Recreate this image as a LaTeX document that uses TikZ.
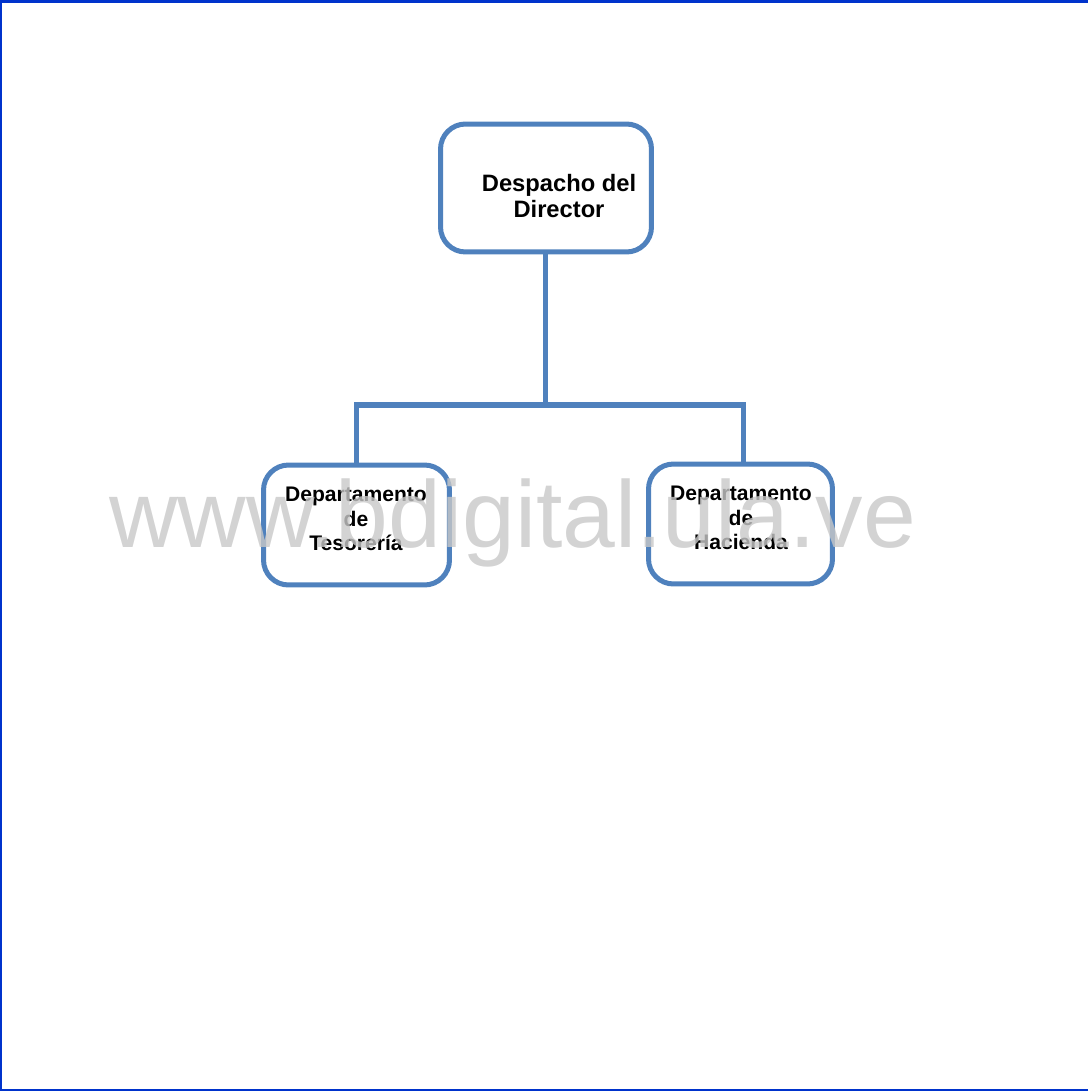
\documentclass[tikz,border=0pt]{standalone}
\usepackage{fontspec}
\setmainfont{Liberation Sans}
\usepackage{tikz}
\usetikzlibrary{positioning}

\definecolor{boxblue}{RGB}{79,129,189}
\definecolor{frameblue}{RGB}{0,51,204}
\definecolor{markgray}{RGB}{200,200,200}

\tikzset{
  orgbox/.style={draw=boxblue,line width=2.85pt,rounded corners=0.5cm,
    inner sep=0pt},
  orgline/.style={draw=boxblue,line width=2.85pt},
  bigtxt/.style={align=center,font=\bfseries\fontsize{13.5}{14.8}\selectfont},
  smalltxt/.style={align=center,font=\bfseries\fontsize{12}{13.9}\selectfont}
}

\begin{document}
\begin{tikzpicture}[x=0.02cm,y=-0.02cm]

  % hoja
  \useasboundingbox (0,0) rectangle (1088,1091);
  \fill[frameblue] (0,0) rectangle (1088,3);
  \fill[frameblue] (0,0) rectangle (1.6,1091);
  \fill[frameblue] (0,1088.5) rectangle (1088,1091);

  % cajas
  \node[orgbox,minimum width=4.22cm,minimum height=2.56cm]
    (director) at (546,188) {};
  \node[orgbox,minimum width=3.72cm,minimum height=2.4cm]
    (tesoreria) at (356.5,525) {};
  \node[orgbox,minimum width=3.68cm,minimum height=2.4cm]
    (hacienda) at (740.5,524) {};

  % textos
  \node[bigtxt] (directortxt) at (559,196) {Despacho del\\Director};
  \node[smalltxt] (tesoreriatxt) at (356,519) {Departamento\\de\\Tesorería};
  \node[smalltxt] (haciendatxt) at (741,518) {Departamento\\de\\Hacienda};

  % conectores
  \coordinate (junta) at (545,405);
  \draw[orgline] (director.south -| junta) -- (junta);
  \draw[orgline] (tesoreria.north) |- (junta)
    -| ([xshift=0.05cm]hacienda.north);

  % marca de agua
  \node[text=markgray,opacity=0.8,font=\fontsize{54}{60}\selectfont]
    (marca) at (512.5,523) {www.bdigital.ula.ve};

\end{tikzpicture}
\end{document}
